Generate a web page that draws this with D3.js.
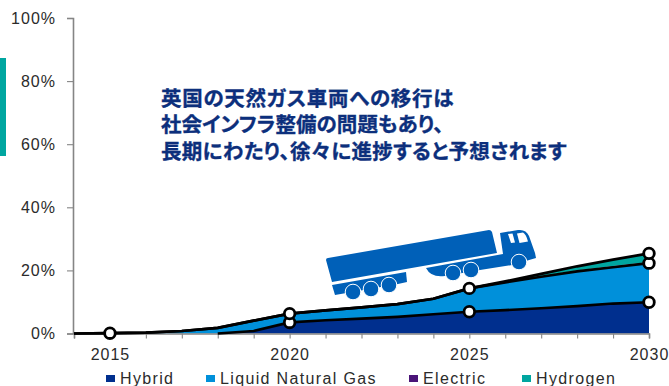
<!DOCTYPE html>
<html lang="ja">
<head>
<meta charset="utf-8">
<script src="https://cdn.jsdelivr.net/npm/d3@7/dist/d3.min.js"></script>
<style>
  html, body { margin: 0; padding: 0; background: #fff; overflow: hidden; }
  svg { display: block; }
  text { font-family: "Liberation Sans", Arial, sans-serif; fill: #2b2b2b; }
</style>
</head>
<body>
<svg id="chart" width="669" height="386"></svg>
<script>
// Powertrain share of UK heavy trucks, stacked by fuel type (percent)
const years = [2014, 2015, 2016, 2017, 2018, 2019, 2020, 2021, 2022, 2023, 2024, 2025, 2026, 2027, 2028, 2029, 2030];
const hybrid = [0, 0, 0, 0, 0, 0.8, 3.5, 4.2, 4.7, 5.3, 6.1, 6.9, 7.4, 8.0, 8.7, 9.5, 9.9];
const lng = [0, 0.1, 0.3, 0.8, 1.8, 3.3, 2.8, 3.1, 3.6, 4.0, 4.9, 7.4, 8.8, 10.0, 11.0, 11.5, 12.4];
const electric = [0, 0, 0, 0, 0, 0, 0, 0, 0, 0, 0, 0, 0.1, 0.2, 0.3, 0.4, 0.4];
const hydrogen = [0, 0, 0, 0, 0, 0, 0, 0, 0, 0, 0, 0, 0.2, 0.7, 1.3, 2.0, 2.7];

const seriesNames = ["Hybrid", "Liquid Natural Gas", "Electric", "Hydrogen"];
const seriesColors = ["#002f8e", "#0090da", "#4a1478", "#00a6a0"];
const yTicks = [0, 20, 40, 60, 80, 100];
const xLabels = [2015, 2020, 2025, 2030];
const markerYears = [2015, 2020, 2025, 2030];
const headline = [
  "英国の天然ガス車両への移行は",
  "社会インフラ整備の問題もあり、",
  "長期にわたり、徐々に進捗すると予想されます"
];

const svg = d3.select("#chart");
const x = d3.scaleLinear().domain([2014, 2030]).range([74, 649]);
const y = d3.scaleLinear().domain([0, 100]).range([333.5, 18]);

// Accent bar on the page edge
svg.append("rect").attr("x", 0).attr("y", 58).attr("width", 6).attr("height", 98).attr("fill", "#00a6a0");

// Stacked areas
const rows = years.map((yr, i) => ({
  year: yr,
  [seriesNames[0]]: hybrid[i],
  [seriesNames[1]]: lng[i],
  [seriesNames[2]]: electric[i],
  [seriesNames[3]]: hydrogen[i]
}));
const stacked = d3.stack().keys(seriesNames)(rows);
const area = d3.area()
  .x(d => x(d.data.year))
  .y0(d => y(d[0]))
  .y1(d => y(d[1]));
svg.selectAll("path.band").data(stacked).join("path")
  .attr("class", "band")
  .attr("d", area)
  .attr("fill", (d, i) => seriesColors[i]);

// Axes
const axisColor = "#858585";
const yAxis = svg.append("g").attr("transform", "translate(73,0)")
  .call(d3.axisLeft(y).tickValues(yTicks).tickSize(6).tickPadding(11).tickFormat(d => d + "%"));
const xAxis = svg.append("g").attr("transform", "translate(0,333.5)")
  .call(d3.axisBottom(x).tickValues(years).tickSize(5).tickPadding(10)
    .tickFormat(d => xLabels.includes(d) ? String(d) : ""));
[yAxis, xAxis].forEach(g => {
  g.select(".domain").attr("stroke", axisColor).attr("stroke-width", 1.6);
  g.selectAll(".tick line").attr("stroke", axisColor).attr("stroke-width", 1.1);
  g.selectAll("text").attr("font-size", 16).attr("letter-spacing", 1)
    .attr("font-family", "Liberation Sans, Arial, sans-serif").attr("fill", "#2b2b2b");
});

// Black outlines along the stack boundaries
const boundary = d3.line().x(d => x(d.data.year)).y(d => y(d[1]));
[0, 1, 3].forEach(k => {
  const pts = k === 0 ? stacked[k].filter(d => d.data.year >= 2018) : stacked[k];
  svg.append("path").attr("d", boundary(pts))
    .attr("fill", "none").attr("stroke", "#000").attr("stroke-width", 2.7);
});

// Open circle markers on the milestone years
[0, 1, 3].forEach(k => {
  const pts = stacked[k].filter(d => markerYears.includes(d.data.year) && !(k < 3 && d.data.year === 2015));
  const visible = k === 3 ? pts.filter(d => d.data.year === 2015 || d.data.year === 2030) : pts;
  svg.selectAll(null).data(visible).join("circle")
    .attr("cx", d => x(d.data.year))
    .attr("cy", d => y(d[1]))
    .attr("r", 5.3)
    .attr("fill", "#fff").attr("stroke", "#000").attr("stroke-width", 2.8);
});

// Truck pictogram climbing the curve
const truck = svg.append("g").attr("fill", "#0060b8");
truck.append("path").attr("d", "M326,260 Q326,258 328,258 L489,230 Q491,230 492,232 L497,253 L332,282 Z");
truck.append("path").attr("d", "M426,268 L503,254 L500,233 L518,230 Q526,229 529,236 L535,253 L536,258 L512,265 L480,270 L445,276 Q431,278 426,268 Z");
truck.append("path").attr("d", "M332,285 L406,272 L407,282 L398,284 L335,295 Z");
truck.append("path").attr("fill", "#fff").attr("d", "M508,234 L512.5,233.5 L515,242.5 L511,243 Z");
truck.append("path").attr("fill", "#fff").attr("d", "M517,233.5 L523,232.5 Q526,234 528,241.5 L519.5,243 Z");
truck.selectAll("circle")
  .data([[353, 292], [371, 289], [389, 285], [453, 273], [471, 270], [519, 262]])
  .join("circle")
  .attr("cx", d => d[0]).attr("cy", d => d[1]).attr("r", 7.8)
  .attr("fill", "#0060b8").attr("stroke", "#fff").attr("stroke-width", 1);

// Headline annotation
const headlineSpacing = [0.7, 0.05, 0.33];
svg.selectAll("text.headline").data(headline).join("text")
  .attr("class", "headline")
  .attr("x", 161)
  .attr("y", (d, i) => [106, 132, 159][i])
  .attr("font-size", 20.5)
  .attr("font-weight", 700)
  .attr("letter-spacing", (d, i) => headlineSpacing[i])
  .style("font-family", '"Noto Sans CJK JP", sans-serif')
  .style("font-feature-settings", '"palt"')
  .style("fill", "#0c2f7c")
  .style("stroke", "#0c2f7c")
  .style("stroke-width", 0.35)
  .text(d => d);

// Legend
const legendX = [106, 206, 409, 522];
const legend = svg.selectAll("g.legend").data(seriesNames).join("g")
  .attr("class", "legend")
  .attr("transform", (d, i) => `translate(${legendX[i]},0)`);
legend.append("rect").attr("y", 375).attr("width", 9).attr("height", 7)
  .attr("fill", (d, i) => seriesColors[i]);
legend.append("text").attr("x", 14).attr("y", 384)
  .attr("font-size", 16).attr("letter-spacing", 1.35).text(d => d);
</script>
</body>
</html>
